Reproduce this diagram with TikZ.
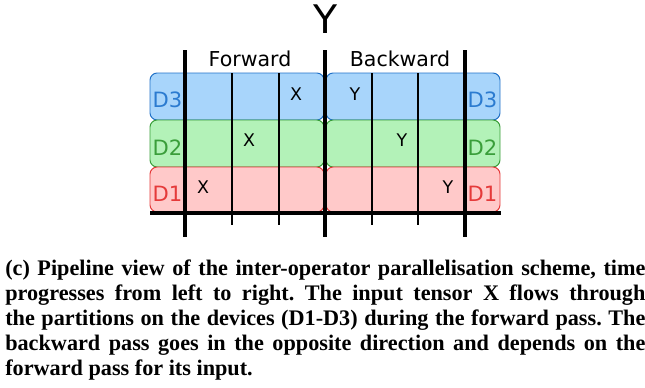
\documentclass[tikz,border=0pt]{standalone}
\usepackage{fontspec}
\setmainfont{Liberation Serif}
\setsansfont{DejaVu Sans}
\usepackage{tikz}
\usetikzlibrary{positioning, calc}
\usepackage{xcolor}
\definecolor{dthreefill}{HTML}{A8D5FB}
\definecolor{dthreeline}{HTML}{2272C8}
\definecolor{dthreetext}{HTML}{2B7BD0}
\definecolor{dtwofill}{HTML}{B3F2B8}
\definecolor{dtwoline}{HTML}{3A9E3A}
\definecolor{dtwotext}{HTML}{3A9E3A}
\definecolor{donefill}{HTML}{FFC9C9}
\definecolor{doneline}{HTML}{E53A3A}
\definecolor{donetext}{HTML}{E53A3A}
\frenchspacing

\begin{document}
\begin{tikzpicture}[
  x=0.025cm, y=-0.025cm,
  dev/.style={rounded corners=0.18cm, line width=0.7pt},
  tick/.style={line width=2.2pt},
  slot/.style={line width=1pt},
  devlabel/.style={font=\sffamily\fontsize{15}{16}\selectfont, inner sep=0pt},
  token/.style={font=\sffamily\fontsize{12.4}{14}\selectfont, inner sep=0pt},
  phase/.style={font=\sffamily\fontsize{14.6}{16}\selectfont, inner sep=0pt},
  caption/.style={font=\bfseries\fontsize{15.8}{17.9}\selectfont, inner sep=0pt,
    text width=16cm, align=justify, anchor=base west}
]
  \useasboundingbox (0,0) rectangle (645,388);

  % device rows, forward half
  \draw[dev, draw=dthreeline, fill=dthreefill] (150,73) rectangle (324,120);
  \draw[dev, draw=dtwoline, fill=dtwofill] (150,120) rectangle (324,167);
  \draw[dev, draw=doneline, fill=donefill] (150,167) rectangle (324,212);

  % device rows, backward half
  \draw[dev, draw=dthreeline, fill=dthreefill] (326,73) rectangle (500,120);
  \draw[dev, draw=dtwoline, fill=dtwofill] (326,120) rectangle (500,167);
  \draw[dev, draw=doneline, fill=donefill] (326,167) rectangle (500,212);

  % time slots
  \draw[slot] (232,73) -- (232,225);
  \draw[slot] (279,73) -- (279,225);
  \draw[slot] (372,73) -- (372,225);
  \draw[slot] (418,73) -- (418,225);
  \draw[tick] (185,50) -- (185,237);
  \draw[tick] (325,50) -- (325,237);
  \draw[tick] (465,50) -- (465,237);
  \draw[tick] (150,213) -- (501,213);

  % output and phases
  \node[font=\sffamily\fontsize{28}{30}\selectfont, inner sep=0pt] (out) at (325.5,19) {Y};
  \node[phase] (fwd) at (250,59) {Forward};
  \node[phase] (bwd) at (400,59) {Backward};

  % device names
  \node[devlabel, text=dthreetext] (d3l) at (167.5,99.5) {D3};
  \node[devlabel, text=dtwotext] (d2l) at (167.5,148) {D2};
  \node[devlabel, text=donetext] (d1l) at (167.5,194) {D1};
  \node[devlabel, text=dthreetext] (d3r) at (482.5,99.5) {D3};
  \node[devlabel, text=dtwotext] (d2r) at (482.5,148) {D2};
  \node[devlabel, text=donetext] (d1r) at (482.5,194) {D1};

  % tensors
  \node[token] (x1) at (203,187) {X};
  \node[token] (x2) at (249,140) {X};
  \node[token] (x3) at (296,94) {X};
  \node[token] (y3) at (355,94) {Y};
  \node[token] (y2) at (402,140) {Y};
  \node[token] (y1) at (448,187) {Y};

  % caption
  \node[caption] (cap) at (5,275) {(c) Pipeline view of the inter-operator parallelisation scheme, time\linebreak
    progresses from left to right. The input tensor X flows through\linebreak
    the partitions on the devices (D1-D3) during the forward pass. The\linebreak
    backward pass goes in the opposite direction and depends on the\linebreak
    forward pass for its input.};
\end{tikzpicture}
\end{document}
